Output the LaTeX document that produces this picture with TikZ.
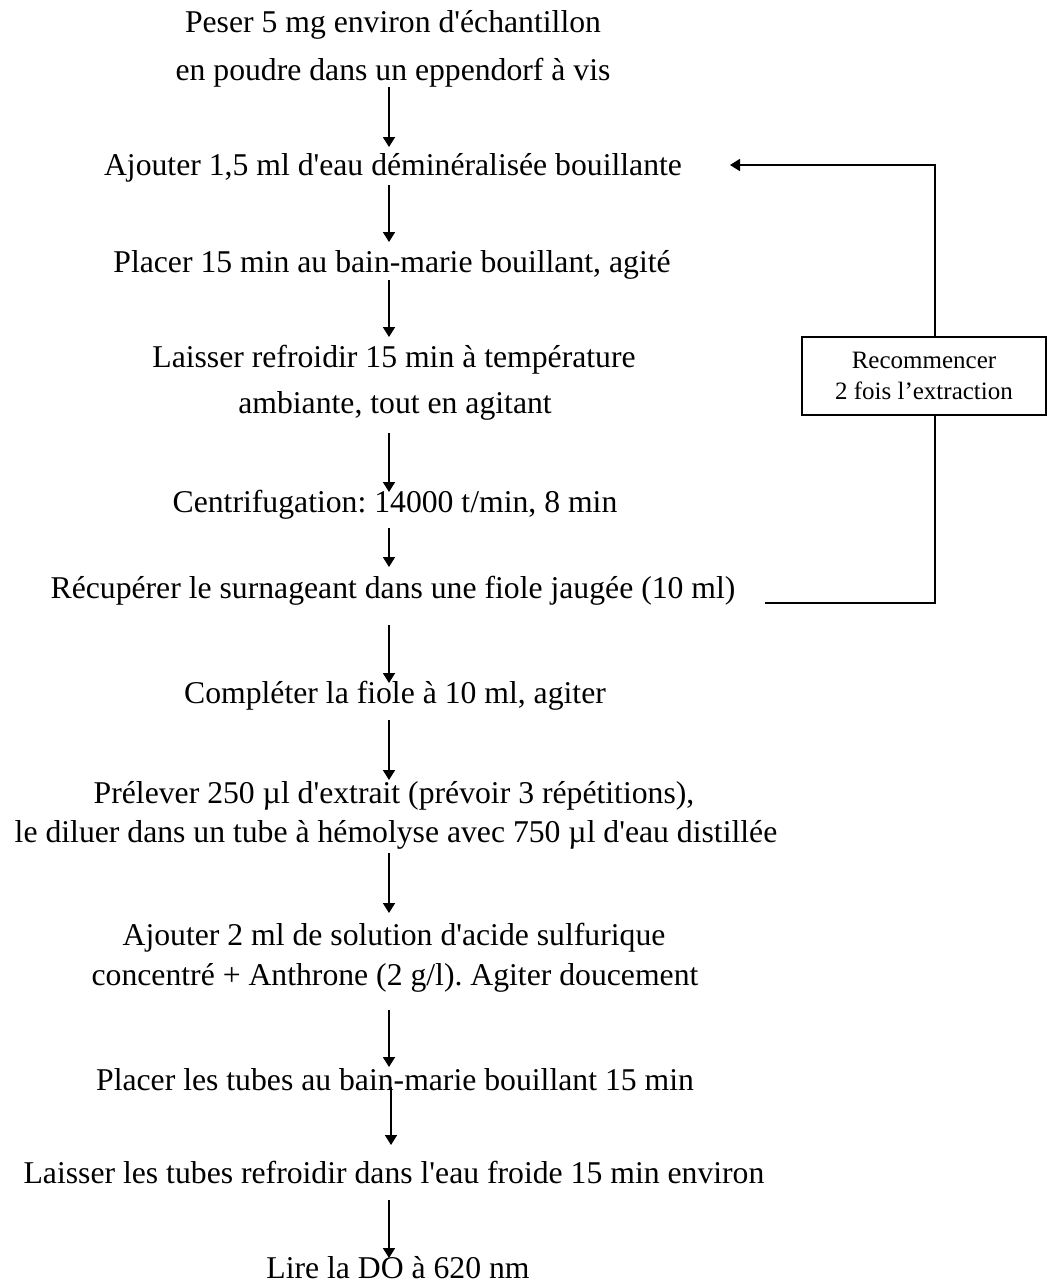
\documentclass[tikz,border=0pt]{standalone}
\usepackage{fontspec}
\setmainfont{Liberation Serif}
\usetikzlibrary{arrows.meta}
\newcommand\sq{\XeTeXglyph\XeTeXcharglyph"27\relax}
\frenchspacing
\begin{document}
\begin{tikzpicture}[x=1pt,y=-1pt,
  txt/.style={font=\fontsize{31.7}{37}\selectfont, anchor=base, inner sep=0pt},
  arr/.style={line width=1.7pt, -{Triangle[length=10pt,width=12pt]}},
  ln/.style={line width=1.7pt},
  boxst/.style={draw, line width=1.3pt, font=\fontsize{25}{31}\selectfont, align=center,
    minimum width=244pt, minimum height=78pt, inner sep=0pt}]
\fill[white] (0,0) rectangle (1047,1286);
\useasboundingbox (0,0) rectangle (1047,1286);
\coordinate (ax) at (389,0);
\coordinate (ax2) at (391,0);
\coordinate (lx) at (935,0);
\node[txt] (p1a) at (393,32) {Peser 5 mg environ d\sq échantillon};
\node[txt] (p1b) at (393,80) {en poudre dans un eppendorf à vis};
\node[txt] (p2) at (393,175) {Ajouter 1,5 ml d\sq eau déminéralisée bouillante};
\node[txt] (p3) at (392,272) {Placer 15 min au bain-marie bouillant, agité};
\node[txt] (p4a) at (394,367) {Laisser refroidir 15 min à température};
\node[txt] (p4b) at (395,413) {ambiante, tout en agitant};
\node[txt] (p5) at (395,512) {Centrifugation: 14000 t/min, 8 min};
\node[txt] (p6) at (393,598) {Récupérer le surnageant dans une fiole jaugée (10 ml)};
\node[txt] (p7) at (395,703) {Compléter la fiole à 10 ml, agiter};
\node[txt] (p8a) at (394,803) {Prélever 250 µl d\sq extrait (prévoir 3 répétitions),};
\node[txt] (p8b) at (396,842) {le diluer dans un tube à hémolyse avec 750 µl d\sq eau distillée};
\node[txt] (p9a) at (394,945) {Ajouter 2 ml de solution d\sq acide sulfurique};
\node[txt] (p9b) at (395,985) {concentré + Anthrone (2 g/l). Agiter doucement};
\node[txt] (p10) at (395,1090) {Placer les tubes au bain-marie bouillant 15 min};
\node[txt] (p11) at (394,1183) {Laisser les tubes refroidir dans l\sq eau froide 15 min environ};
\node[txt] (p12) at (398,1278) {Lire la DO à 620 nm};
\node[boxst] (box) at (924,376) {Recommencer\\2 fois l’extraction};
\coordinate (lo) at (765,603);
\coordinate (li) at (730,165);
\draw[arr] ([yshift=-7pt]p1b.base -| ax) -- ([yshift=28pt]p2.base -| ax);
\draw[arr] ([yshift=-10pt]p2.base -| ax) -- ([yshift=30pt]p3.base -| ax);
\draw[arr] ([yshift=-8pt]p3.base -| ax) -- ([yshift=30pt]p4a.base -| ax);
\draw[arr] ([yshift=-20pt]p4b.base -| ax) -- ([yshift=20pt]p5.base -| ax);
\draw[arr] ([yshift=-16pt]p5.base -| ax) -- ([yshift=31pt]p6.base -| ax);
\draw[arr] ([yshift=-27pt]p6.base -| ax) -- ([yshift=20pt]p7.base -| ax);
\draw[arr] ([yshift=-17pt]p7.base -| ax) -- ([yshift=23pt]p8a.base -| ax);
\draw[arr] ([yshift=-11pt]p8b.base -| ax) -- ([yshift=32pt]p9a.base -| ax);
\draw[arr] ([yshift=-25pt]p9b.base -| ax) -- ([yshift=23pt]p10.base -| ax);
\draw[arr] ([yshift=3pt]p10.base -| ax2) -- ([yshift=38pt]p11.base -| ax2);
\draw[arr] ([yshift=-17pt]p11.base -| ax) -- ([yshift=20pt]p12.base -| ax);
\draw[ln] (lo) -| (box.south -| lx);
\draw[arr] (box.north -| lx) |- (li);
\end{tikzpicture}
\end{document}
